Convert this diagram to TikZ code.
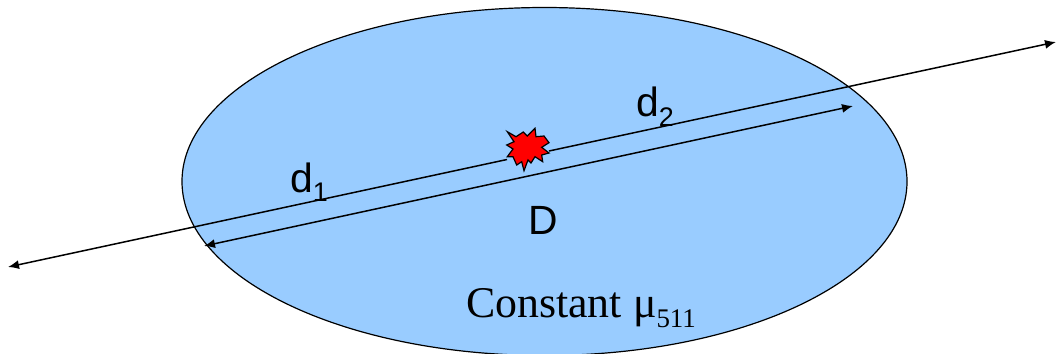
\documentclass[tikz,border=0pt]{standalone}
\usepackage{fontspec}
\setmainfont{Liberation Serif}
\newfontfamily\labelfont{Liberation Sans}
\usetikzlibrary{arrows.meta,shapes.geometric}
\definecolor{regionblue}{RGB}{153,204,255}
\definecolor{burstred}{RGB}{255,0,0}
\begin{document}
\begin{tikzpicture}[x=1bp,y=-1bp,
tipL/.style={{Latex[length=11bp,width=9bp]}-,line width=1.5bp},
tipR/.style={-{Latex[length=11bp,width=9bp]},line width=1.5bp},
tipLR/.style={{Latex[length=11bp,width=9bp]}-{Latex[length=11bp,width=9bp]},line width=1.5bp},
dlbl/.style={font=\labelfont\fontsize{41}{44}\selectfont,inner sep=0pt,anchor=base west},
clbl/.style={font=\fontsize{44}{48}\selectfont,inner sep=0pt,anchor=base west}
]
\useasboundingbox (0,0) rectangle (1056,353);
\node[draw=black,line width=1.2bp,fill=regionblue,ellipse,minimum width=725bp,minimum height=348bp,inner sep=0pt] (region) at (544.5,181.5) {};
\coordinate (rayL) at (8,267);
\coordinate (rayR) at (1056,42);
\coordinate (burstL) at (507,159.5);
\coordinate (burstR) at (549,151);
\coordinate (depthL) at (204,246);
\coordinate (depthR) at (853,106);
\draw[tipL] (rayL) -- (burstL);
\draw[tipR] (burstR) -- (rayR);
\draw[tipLR] (depthL) -- (depthR);
% burst
\draw[fill=burstred,line width=1.2bp,line join=miter] (507.3,131.7) -- (516,136.7) -- (523.3,132) -- (527.3,136) -- (535,128.3) -- (536,136.7) -- (544,136) -- (549,142.7) -- (541.7,147.3) -- (549,153) -- (541.7,155) -- (542.7,161.7) -- (535,156.7) -- (531,163) -- (528,160) -- (524,170.7) -- (521.7,161.7) -- (516.7,165) -- (513,156.7) -- (507.3,156.7) -- (513,149) -- (506.7,145) -- (514,141.7) -- cycle;
\node[dlbl] (d1) at (290,192) {d\raisebox{-9.5bp}{\fontsize{27}{29}\selectfont 1}};
\node[dlbl] (d2) at (636,116.5) {d\raisebox{-9.5bp}{\fontsize{27}{29}\selectfont 2}};
\node[dlbl] (D) at (528.5,234) {D};
\node[clbl] (mu) at (466,317) {Constant μ\raisebox{-10bp}{\fontsize{27}{29}\selectfont 511}};
\end{tikzpicture}
\end{document}
